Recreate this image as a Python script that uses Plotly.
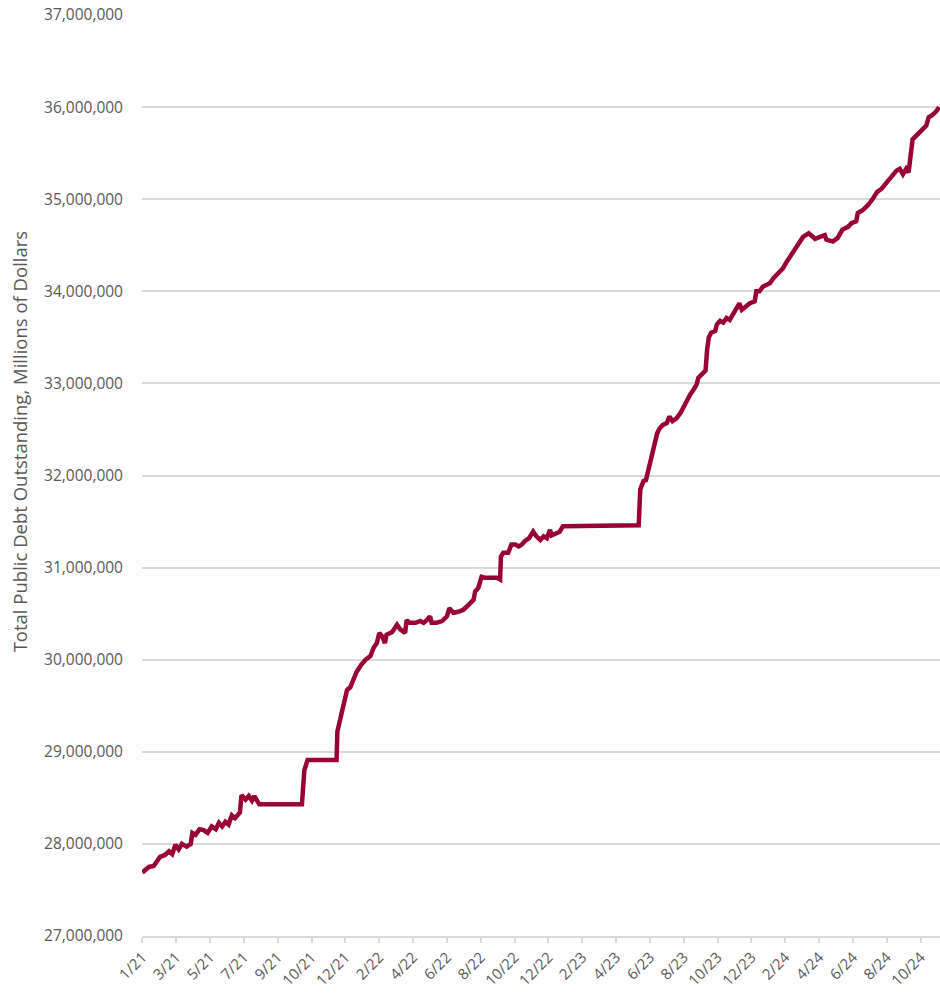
import plotly.graph_objects as go

# Business-day index of each sampled point (labels every 42 days)
day_index = [
    0, 4, 8, 14, 18, 22, 28, 33, 37, 41, 45, 49, 55, 60, 62, 66, 71, 76, 81, 86,
    91, 95, 99, 103, 107, 111, 115, 121, 123, 128, 132, 136, 139, 142, 145, 198,
    200, 201, 205, 241, 242, 246, 250, 254, 258, 262, 266, 272, 277, 283, 287, 291,
    294, 298, 301, 303, 310, 316, 320, 326, 328, 332, 339, 345, 349, 353, 357, 359,
    365, 372, 378, 381, 386, 392, 398, 403, 407, 411, 413, 417, 421, 425, 432, 440,
    444, 445, 448, 454, 458, 463, 467, 471, 475, 480, 485, 489, 494, 498, 502, 506,
    508, 514, 518, 522, 531, 543, 568, 590, 616, 618, 622, 625, 628, 630, 633, 636,
    639, 642, 646, 651, 654, 658, 663, 668, 672, 676, 680, 684, 688, 690, 694, 699,
    701, 703, 706, 711, 713, 717, 721, 725, 729, 733, 737, 741, 744, 748, 754, 760,
    762, 766, 770, 775, 779, 783, 787, 791, 795, 799, 804, 810, 814, 820, 827, 835,
    841, 847, 849, 857, 863, 869, 876, 880, 886, 888, 894, 901, 907, 912, 917, 923,
    930, 936, 940, 944, 948, 951, 956, 961, 967, 973, 976, 980, 985, 989,
]

# Total public debt outstanding, trillions of dollars
debt_trillions = [
    27.69, 27.72, 27.75, 27.76, 27.81, 27.86, 27.88, 27.92, 27.89, 27.99, 27.94, 28.00, 27.97, 28.00, 28.12, 28.10, 28.16, 28.15, 28.12, 28.19,
    28.16, 28.23, 28.19, 28.24, 28.21, 28.31, 28.28, 28.34, 28.53, 28.48, 28.52, 28.47, 28.52, 28.46, 28.43, 28.43,
    28.77, 28.80, 28.91, 28.91, 29.22, 29.38, 29.49, 29.67, 29.70, 29.78, 29.87, 29.95, 30.00, 30.04, 30.13, 30.18,
    30.29, 30.25, 30.18, 30.27, 30.30, 30.38, 30.33, 30.29, 30.43, 30.40, 30.40, 30.42, 30.40, 30.43, 30.47, 30.40,
    30.40, 30.42, 30.47, 30.56, 30.51, 30.52, 30.54, 30.58, 30.62, 30.65, 30.74, 30.78, 30.90, 30.89, 30.89, 30.89,
    30.87, 31.12, 31.16, 31.16, 31.25, 31.25, 31.23, 31.25, 31.29, 31.32, 31.39, 31.34, 31.30, 31.34, 31.32, 31.41,
    31.35, 31.38, 31.39, 31.45, 31.45, 31.46, 31.45, 31.46, 31.46, 31.85, 31.94, 31.95, 32.06, 32.15, 32.24, 32.32,
    32.46, 32.51, 32.55, 32.57, 32.64, 32.59, 32.62, 32.68, 32.75, 32.83, 32.88, 32.93, 32.99, 33.06, 33.10, 33.14,
    33.37, 33.50, 33.55, 33.57, 33.64, 33.68, 33.66, 33.71, 33.69, 33.75, 33.82, 33.87, 33.80, 33.83, 33.87, 33.89,
    34.00, 34.00, 34.05, 34.07, 34.09, 34.14, 34.18, 34.22, 34.25, 34.31, 34.38, 34.47, 34.52, 34.59, 34.63, 34.57,
    34.59, 34.61, 34.56, 34.54, 34.58, 34.67, 34.70, 34.74, 34.76, 34.85, 34.88, 34.94, 35.01, 35.08, 35.11, 35.17,
    35.24, 35.31, 35.33, 35.27, 35.33, 35.29, 35.65, 35.69, 35.74, 35.80, 35.89, 35.91, 35.95, 36.00,
]

tick_labels = [
    "1/21", "3/21", "5/21", "7/21", "9/21", "10/21", "12/21", "2/22", "4/22", "6/22",
    "8/22", "10/22", "12/22", "2/23", "4/23", "6/23", "8/23", "10/23", "12/23", "2/24",
    "4/24", "6/24", "8/24", "10/24",
]
label_step = 42
tick_positions = [i * label_step for i in range(len(tick_labels))]

y_ticks = list(range(27_000_000, 37_000_001, 1_000_000))

debt_millions = [v * 1_000_000 for v in debt_trillions]

GRID = "#d9d9d9"
TEXT = "#595959"
FONT = "'Open Sans', Lato, sans-serif"

fig = go.Figure()
fig.add_trace(go.Scatter(
    x=day_index,
    y=debt_millions,
    mode="lines",
    line=dict(color="#990033", width=4.5),
    hoverinfo="skip",
))

fig.update_layout(
    width=940,
    height=994,
    margin=dict(l=142, r=0, t=15, b=58),
    paper_bgcolor="white",
    plot_bgcolor="white",
    showlegend=False,
    font=dict(family=FONT, color=TEXT, size=14),
)

fig.update_xaxes(
    range=[-0.5, 990],
    tickmode="array",
    tickvals=tick_positions,
    ticktext=tick_labels,
    tickangle=-45,
    ticks="outside",
    ticklen=5,
    tickcolor=GRID,
    tickwidth=1.5,
    showline=True,
    linecolor=GRID,
    linewidth=1.5,
    showgrid=False,
    zeroline=False,
    tickfont=dict(size=15, color=TEXT, family=FONT),
)

fig.update_yaxes(
    range=[27_000_000, 37_000_000],
    tickmode="array",
    tickvals=y_ticks,
    tickformat=",d",
    showgrid=True,
    gridcolor=GRID,
    gridwidth=1.5,
    showline=False,
    zeroline=False,
    ticks="",
    ticklabelstandoff=18,
    tickfont=dict(size=15.5, color=TEXT, family=FONT),
)

fig.add_annotation(
    text="Total Public Debt Outstanding, Millions of Dollars",
    xref="paper", yref="paper",
    x=-0.153, y=0.537,
    xanchor="center", yanchor="middle",
    textangle=-90,
    showarrow=False,
    font=dict(size=18.5, color=TEXT, family=FONT),
)

fig.write_html(
    "out.html",
    config={"displayModeBar": False},
    post_script="document.body.style.margin='0';",
)
